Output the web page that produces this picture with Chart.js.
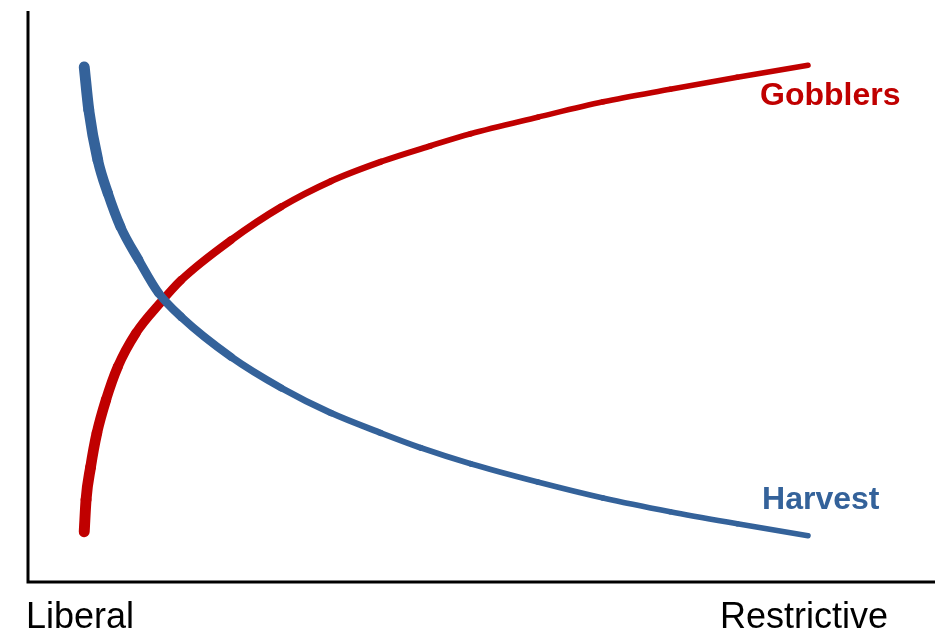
<!DOCTYPE html>
<html>
<head>
<meta charset="utf-8">
<script src="https://cdn.jsdelivr.net/npm/chart.js@4"></script>
<style>
html,body{margin:0;padding:0;background:#fff}
#wrap{position:relative;width:944px;height:631px}
</style>
</head>
<body>
<div id="wrap"><canvas id="chart"></canvas></div>
<script>
// values, 0-100 on both axes
const harvestX=[6.2,6.7,7.7,8.8,10.2,12.2,14.4,16.9,22.4,27.9,33.4,38.9,43.3,48.8,56.2,63.4,70.8,78.2,86.0];
const harvestY=[90.2,82.7,73.9,68.1,62.2,56.4,50.6,46.4,39.4,34.0,29.6,26.1,23.5,20.7,17.5,14.7,12.3,10.2,8.1];
const gobblerX=[6.2,6.4,6.9,7.6,8.6,9.9,11.9,14.6,16.9,22.4,27.9,33.4,38.9,44.4,48.8,56.2,63.4,70.8,78.2,86.0];
const gobblerY=[8.8,14.4,20.1,26.1,31.9,37.7,43.6,48.9,52.9,59.9,65.7,70.2,73.6,76.4,78.5,81.4,84.1,86.3,88.4,90.5];
const seriesNames=['Harvest','Gobblers'];
const axisLabels=['Liberal','Restrictive'];

const BLUE='#34629a', RED='#c00000';
const pts=(xs,ys)=>xs.map((x,i)=>({x,y:ys[i]}));

// line gets thinner going right
function taper(ctx){
  const x=ctx.chart.scales.x.getValueForPixel(ctx.p0.x);
  return 5.5+5.5*Math.exp(-(x-6)/14);
}

const labelPlugin={
  id:'labels',
  afterDraw(chart){
    const c=chart.ctx, a=chart.chartArea, sx=chart.scales.x, sy=chart.scales.y;
    c.save();
    c.strokeStyle='#000';c.lineWidth=3;c.lineCap='butt';
    c.beginPath();c.moveTo(a.left,a.top);c.lineTo(a.left,a.bottom);c.lineTo(a.right,a.bottom);c.stroke();
    c.textBaseline='alphabetic';
    c.font='36px "Liberation Sans", Arial, sans-serif';c.fillStyle='#000';
    c.textAlign='left';c.fillText(axisLabels[0],a.left-2,628);
    c.textAlign='right';c.fillText(axisLabels[1],888,628);
    c.font='bold 32px "Liberation Sans", Arial, sans-serif';c.textAlign='left';
    const hx=harvestX[harvestX.length-1], gx=gobblerX[gobblerX.length-1];
    c.fillStyle=BLUE;c.fillText(seriesNames[0],sx.getPixelForValue(hx)-46,sy.getPixelForValue(harvestY[harvestY.length-1])-27);
    c.fillStyle=RED;c.fillText(seriesNames[1],sx.getPixelForValue(gx)-48,sy.getPixelForValue(gobblerY[gobblerY.length-1])+40);
    c.restore();
  }
};

new Chart(document.getElementById('chart'),{
  type:'line',
  data:{datasets:[
    {label:seriesNames[0],data:pts(harvestX,harvestY),borderColor:BLUE,segment:{borderWidth:taper}},
    {label:seriesNames[1],data:pts(gobblerX,gobblerY),borderColor:RED,segment:{borderWidth:taper}}
  ]},
  options:{
    responsive:true,maintainAspectRatio:false,animation:false,
    layout:{padding:{left:28,top:11,right:9,bottom:49}},
    elements:{point:{radius:0},line:{tension:0,cubicInterpolationMode:'monotone',borderCapStyle:'round',borderJoinStyle:'round',fill:false}},
    plugins:{legend:{display:false},tooltip:{enabled:false}},
    scales:{
      x:{type:'linear',min:0,max:100,display:false},
      y:{type:'linear',min:0,max:100,display:false}
    }
  },
  plugins:[labelPlugin]
});
</script>
</body>
</html>
